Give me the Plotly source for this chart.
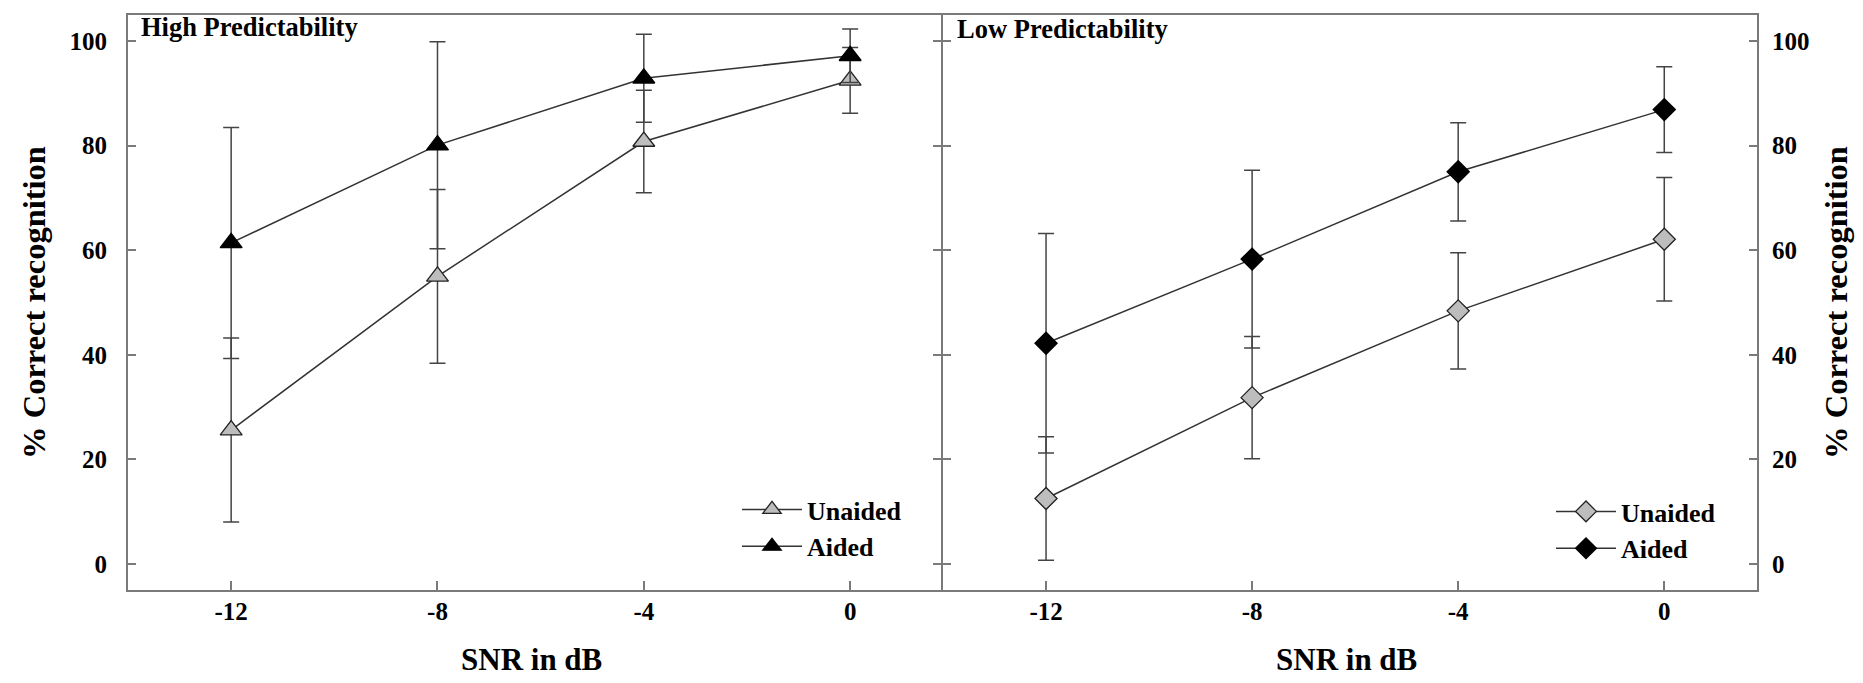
import plotly.graph_objects as go

snr = [-12, -8, -4, 0]
snr_ticks = ["-12", "-8", "-4", "0"]
pct_ticks = [0, 20, 40, 60, 80, 100]

# High predictability
high_unaided = [25.6, 55.0, 80.8, 92.5]
high_unaided_sd = [17.6, 16.6, 9.8, 6.3]
high_aided = [61.4, 80.1, 92.9, 97.2]
high_aided_sd = [22.1, 19.8, 8.4, 5.1]

# Low predictability
low_unaided = [12.5, 31.8, 48.4, 62.1]
low_unaided_sd = [11.8, 11.7, 11.1, 11.8]
low_aided = [42.2, 58.3, 75.0, 86.9]
low_aided_sd = [21.0, 17.0, 9.4, 8.2]

FONT = "Liberation Serif"
W, H = 1863, 683
L, R, T, B = 120, 114, 7, 101
PW, PH = W - L - R, H - T - B


def px(x):
    return (x - L) / PW


def py(y):
    return (H - B - y) / PH


LINE = "#333333"
ERR = "#444444"
FRAME = "#7a7a7a"
GRAY = "#bdbdbd"

fig = go.Figure()


def add(x, y, sd, name, symbol, fill, xa, ya, legend):
    fig.add_trace(go.Scatter(
        x=x, y=y, name=name, mode="lines+markers",
        xaxis=xa, yaxis=ya, legend=legend,
        line=dict(color=LINE, width=1.5),
        marker=dict(symbol=symbol, size=19 if "triangle" in symbol else 17,
                    color=fill, line=dict(color="#222222" if fill != "black" else "black", width=1.3)),
        error_y=dict(type="data", array=sd, visible=True, color=ERR,
                     thickness=1.5, width=8),
    ))


add(snr, high_unaided, high_unaided_sd, "Unaided", "triangle-up", GRAY, "x", "y", "legend")
add(snr, high_aided, high_aided_sd, "Aided", "triangle-up", "black", "x", "y", "legend")
add(snr, low_unaided, low_unaided_sd, "Unaided", "diamond", GRAY, "x2", "y2", "legend2")
add(snr, low_aided, low_aided_sd, "Aided", "diamond", "black", "x2", "y2", "legend2")

split = px(935)
tickfont = dict(family=FONT, size=25, color="black", weight="bold")
titlefont = dict(family=FONT, size=32.5, color="black", weight="bold")
xcommon = dict(range=[-14, 1.8], tickvals=snr, ticktext=snr_ticks, ticks="inside",
               ticklen=9, tickcolor=FRAME, tickwidth=1.5, showline=True, mirror=True,
               linecolor=FRAME, linewidth=2, showgrid=False, zeroline=False,
               tickfont=tickfont, ticklabelstandoff=-2)
ycommon = dict(range=[-5, 105], tickvals=pct_ticks, ticks="inside", ticklen=8,
               tickcolor=FRAME, tickwidth=1.5, showline=True, linecolor=FRAME,
               linewidth=2, showgrid=False, zeroline=False, tickfont=tickfont)
legfont = dict(family=FONT, size=26, color="black", weight="bold")

fig.update_layout(
    width=W, height=H,
    margin=dict(l=L, r=R, t=T, b=B, autoexpand=False),
    paper_bgcolor="white", plot_bgcolor="white",
    xaxis=dict(domain=[0, split], anchor="y", **xcommon),
    xaxis2=dict(domain=[split, 1], anchor="y2", **xcommon),
    yaxis=dict(domain=[0, 1], anchor="x", mirror=False, ticklabelstandoff=14,
               title=dict(text="% Correct recognition", font=titlefont, standoff=14),
               **ycommon),
    yaxis2=dict(domain=[0, 1], anchor="x2", side="right", mirror="ticks",
                ticklabelstandoff=8,
                title=dict(text="% Correct recognition", font=titlefont, standoff=16),
                **ycommon),
    yaxis3=dict(range=[-5, 105], overlaying="y2", anchor="x2", side="left",
                tickvals=pct_ticks, ticks="outside", ticklen=9, tickcolor=FRAME,
                tickwidth=1.5, showticklabels=False, showline=False,
                showgrid=False, zeroline=False),
    legend=dict(x=px(729), y=py(478), xanchor="left", yanchor="top",
                bgcolor="rgba(0,0,0,0)", itemwidth=60, font=legfont),
    legend2=dict(x=px(1543), y=py(480), xanchor="left", yanchor="top",
                 bgcolor="rgba(0,0,0,0)", itemwidth=60, font=legfont),
    showlegend=True,
)

# empty trace so the crossing ticks axis is drawn
fig.add_trace(go.Scatter(x=[None], y=[None], xaxis="x2", yaxis="y3",
                         showlegend=False, hoverinfo="skip"))

afont = dict(family=FONT, color="black", weight="bold")
ann = [
    dict(text="High Predictability", x=px(131), y=py(19), xanchor="left", yanchor="middle",
         font=dict(size=26.5, **afont)),
    dict(text="Low Predictability", x=px(947), y=py(21), xanchor="left", yanchor="middle",
         font=dict(size=26.5, **afont)),
    dict(text="SNR in dB", x=px(523), y=py(651), xanchor="center", yanchor="middle",
         font=dict(size=31, **afont)),
    dict(text="SNR in dB", x=px(1338), y=py(651), xanchor="center", yanchor="middle",
         font=dict(size=31, **afont)),
]
for a in ann:
    a.update(xref="paper", yref="paper", showarrow=False)
fig.update_layout(annotations=ann)

fig.write_html("out.html")
